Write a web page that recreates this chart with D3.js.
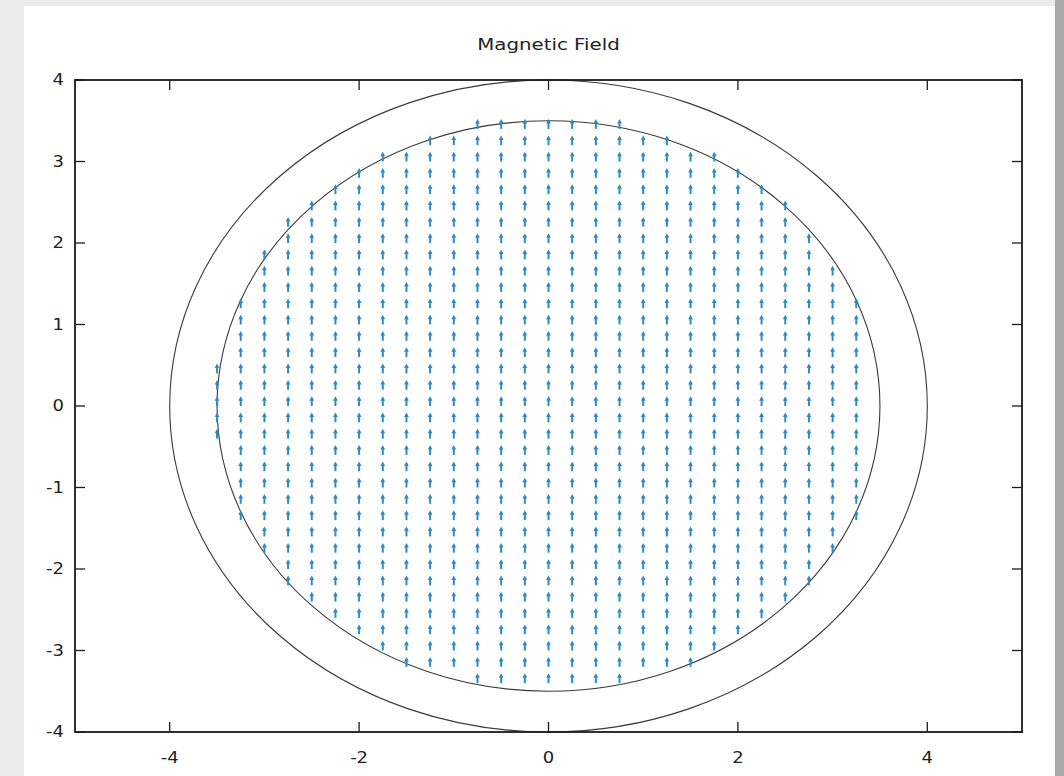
<!DOCTYPE html>
<html>
<head>
<meta charset="utf-8">
<script src="https://cdn.jsdelivr.net/npm/d3@7/dist/d3.min.js"></script>
<style>
  html, body { margin: 0; padding: 0; background: #ececec; }
  svg { display: block; }
  text { font-family: "DejaVu Sans", sans-serif; fill: #222; }
</style>
</head>
<body>
<svg id="chart" width="1064" height="776"></svg>
<script>
// Field sample columns (x) and, for each column, the highest and lowest sample row (y)
const columnX = [-3.5, -3.25, -3, -2.75, -2.5, -2.25, -2, -1.75, -1.5, -1.25, -1, -0.75, -0.5, -0.25,
                 0, 0.25, 0.5, 0.75, 1, 1.25, 1.5, 1.75, 2, 2.25, 2.5, 2.75, 3, 3.25];
const columnTop = [0.4, 1.2, 1.8, 2.2, 2.4, 2.6, 2.8, 3.0, 3.0, 3.2, 3.2, 3.4, 3.4, 3.4,
                   3.4, 3.4, 3.4, 3.4, 3.2, 3.2, 3.0, 3.0, 2.8, 2.6, 2.4, 2.0, 1.6, 1.2];
const columnBottom = [-0.4, -1.4, -1.8, -2.2, -2.4, -2.6, -2.8, -3.0, -3.2, -3.2, -3.2, -3.4, -3.4, -3.4,
                      -3.4, -3.4, -3.4, -3.4, -3.2, -3.2, -3.2, -3.0, -2.8, -2.6, -2.4, -2.2, -1.8, -1.4];
// Sample rows
const rowY = [3.4, 3.2, 3.0, 2.8, 2.6, 2.4, 2.2, 2.0, 1.8, 1.6, 1.4, 1.2, 1.0, 0.8, 0.6, 0.4, 0.2, 0,
              -0.2, -0.4, -0.6, -0.8, -1.0, -1.2, -1.4, -1.6, -1.8, -2.0, -2.2, -2.4, -2.6, -2.8, -3.0, -3.2, -3.4];
// Uniform field vector inside the core (u, v)
const fieldU = 0;
const fieldV = 0.12;
// Boundary circles (radius)
const circleRadii = [4, 3.5];
// Axis ticks
const xTicks = [-4, -2, 0, 2, 4];
const yTicks = [-4, -3, -2, -1, 0, 1, 2, 3, 4];
const title = "Magnetic Field";

const svg = d3.select("#chart");
const stretch = 1.2; // horizontal stretch of the text glyphs

// window frame
svg.append("rect").attr("x", 0).attr("y", 0).attr("width", 1064).attr("height", 776).attr("fill", "#ececec");
svg.append("rect").attr("x", 1055).attr("y", 0).attr("width", 9).attr("height", 776).attr("fill", "#a8a8a8");
svg.append("rect").attr("x", 24).attr("y", 6).attr("width", 1031).attr("height", 770).attr("fill", "#ffffff");

const margin = { left: 75, right: 1022, top: 80, bottom: 732 };
const x = d3.scaleLinear().domain([-5, 5]).range([margin.left, margin.right]);
const y = d3.scaleLinear().domain([-4, 4]).range([margin.bottom, margin.top]);

function label(parent, px, py, anchor, size, str) {
  parent.append("g").attr("transform", `translate(${px},${py}) scale(${stretch},1)`)
    .append("text").attr("text-anchor", anchor).attr("font-size", size).text(str);
}

// title
label(svg, x(0), 50, "middle", 16.5, title);

// circles
svg.append("g").selectAll("ellipse").data(circleRadii).join("ellipse")
  .attr("cx", x(0)).attr("cy", y(0))
  .attr("rx", d => x(d) - x(0)).attr("ry", d => y(0) - y(d))
  .attr("fill", "none").attr("stroke", "#3a3a3a").attr("stroke-width", 1.1);

// field arrows
const arrows = [];
columnX.forEach((cx, i) => {
  rowY.forEach(ry => {
    if (ry <= columnTop[i] + 1e-9 && ry >= columnBottom[i] - 1e-9) arrows.push({ x: cx, y: ry, u: fieldU, v: fieldV });
  });
});
const arrowColor = "#2e8ac5";
const ag = svg.append("g");
arrows.forEach(a => {
  const x0 = x(a.x), y0 = y(a.y), x1 = x(a.x + a.u), y1 = y(a.y + a.v);
  const ang = Math.atan2(y1 - y0, x1 - x0);
  const hl = 4.5, hw = 2.4;
  ag.append("line").attr("x1", x0).attr("y1", y0).attr("x2", x1 - Math.cos(ang) * 2).attr("y2", y1 - Math.sin(ang) * 2)
    .attr("stroke", arrowColor).attr("stroke-width", 2);
  const bx = x1 - Math.cos(ang) * hl, by = y1 - Math.sin(ang) * hl;
  const px = -Math.sin(ang) * hw, py = Math.cos(ang) * hw;
  ag.append("path").attr("d", `M${x1},${y1}L${bx + px},${by + py}L${bx - px},${by - py}Z`).attr("fill", arrowColor);
});

// frame and ticks
const axisColor = "#1a1a1a";
svg.append("rect").attr("x", margin.left).attr("y", margin.top)
  .attr("width", margin.right - margin.left).attr("height", margin.bottom - margin.top)
  .attr("fill", "none").attr("stroke", axisColor).attr("stroke-width", 1.8);

const tk = 10;
const tg = svg.append("g").attr("stroke", axisColor).attr("stroke-width", 1.3);
xTicks.forEach(t => {
  tg.append("line").attr("x1", x(t)).attr("x2", x(t)).attr("y1", margin.bottom).attr("y2", margin.bottom - tk);
  tg.append("line").attr("x1", x(t)).attr("x2", x(t)).attr("y1", margin.top).attr("y2", margin.top + tk);
});
yTicks.forEach(t => {
  tg.append("line").attr("y1", y(t)).attr("y2", y(t)).attr("x1", margin.left).attr("x2", margin.left + tk);
  tg.append("line").attr("y1", y(t)).attr("y2", y(t)).attr("x1", margin.right).attr("x2", margin.right - tk);
});

const xl = svg.append("g");
xTicks.forEach(t => label(xl, x(t), 763, "middle", 15, t));
const yl = svg.append("g");
yTicks.forEach(t => label(yl, 64, y(t) + 5, "end", 15, t));
</script>
</body>
</html>
